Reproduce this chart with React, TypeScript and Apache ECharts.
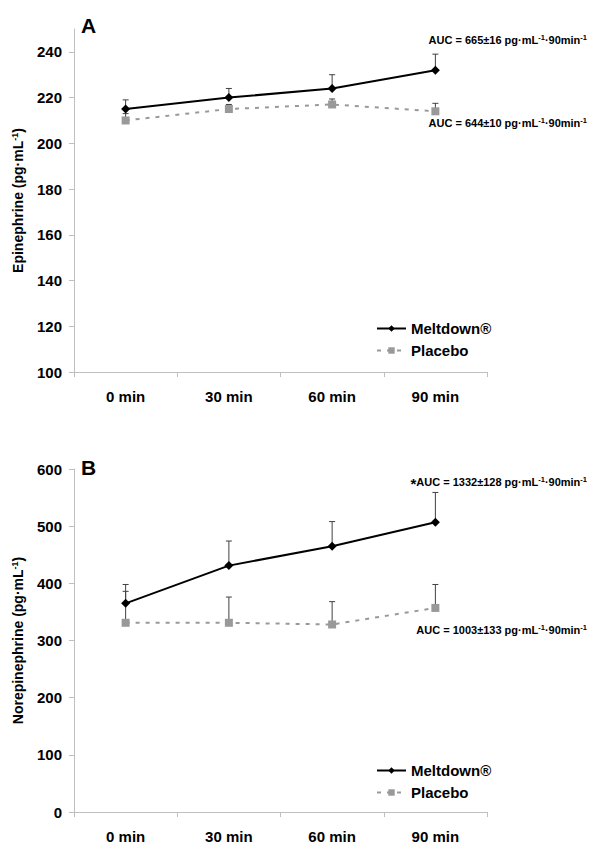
import React, { useEffect, useRef } from "react";
import * as echarts from "echarts";

const categories = ["0 min", "30 min", "60 min", "90 min"];
const seriesNames = ["Meltdown®", "Placebo"];

const epiMeltdown = [215, 220, 224, 232];
const epiMeltdownErr = [4, 4, 6, 7];
const epiPlacebo = [210, 215, 217, 214];
const epiPlaceboErr = [3, 2, 2.4, 3.5];

const norMeltdown = [365, 431, 465, 507];
const norMeltdownErr = [33, 43, 43, 52];
const norPlacebo = [331, 331, 328, 357];
const norPlaceboErr = [55, 45, 40, 41];

const epiTicks = [100, 120, 140, 160, 180, 200, 220, 240];
const norTicks = [0, 100, 200, 300, 400, 500, 600];

const epiAxisName = "Epinephrine (pg·mL";
const norAxisName = "Norepinephrine (pg·mL";

const aucTexts = [
  { pre: "", value: "AUC = 665±16 pg·mL" },
  { pre: "", value: "AUC = 644±10 pg·mL" },
  { pre: "*", value: "AUC = 1332±128 pg·mL" },
  { pre: "", value: "AUC = 1003±133 pg·mL" },
];

const FONT = "'Liberation Sans', Arial, Helvetica, sans-serif";
const GRAY = "#999999";
const AXIS = "#bfbfbf";

function errData(vals: number[], errs: number[]) {
  return vals.map((v, i) => [i, v, errs[i]]);
}

function errorSeries(xi: number, vals: number[], errs: number[]) {
  return {
    type: "custom",
    xAxisIndex: xi,
    yAxisIndex: xi,
    z: 1,
    silent: true,
    encode: { x: 0, y: 1 },
    data: errData(vals, errs),
    renderItem: (params: any, api: any) => {
      const x = api.value(0);
      const y = api.value(1);
      const e = api.value(2);
      const base = api.coord([x, y]);
      const top = api.coord([x, y + e]);
      const style = { stroke: "#404040", lineWidth: 1 };
      return {
        type: "group",
        children: [
          { type: "line", shape: { x1: base[0], y1: base[1], x2: top[0], y2: top[1] }, style },
          { type: "line", shape: { x1: top[0] - 3, y1: top[1], x2: top[0] + 3, y2: top[1] }, style },
        ],
      };
    },
  };
}

function lineSeries(name: string, xi: number, data: number[], meltdown: boolean) {
  return {
    type: "line",
    name,
    xAxisIndex: xi,
    yAxisIndex: xi,
    z: 3,
    data,
    symbol: meltdown ? "diamond" : "rect",
    symbolSize: meltdown ? 9 : 8,
    itemStyle: { color: meltdown ? "#000000" : GRAY },
    lineStyle: meltdown
      ? { color: "#000000", width: 2, type: "solid" }
      : { color: GRAY, width: 2, type: [4, 6] },
  };
}

function xAxis(gi: number) {
  return {
    type: "category",
    gridIndex: gi,
    data: categories,
    boundaryGap: true,
    axisLine: { lineStyle: { color: AXIS, width: 1 } },
    axisTick: { show: true, alignWithLabel: false, length: 5, lineStyle: { color: AXIS } },
    axisLabel: { margin: 17, color: "#000", fontFamily: FONT, fontWeight: "bold", fontSize: 15 },
    splitLine: { show: false },
  };
}

function yAxis(gi: number, min: number, max: number, interval: number, ticks: number[], name: string) {
  return {
    type: "value",
    gridIndex: gi,
    min,
    max,
    interval,
    name: `{a|${name}}{s|-1}{a|)}`,
    nameLocation: "middle",
    nameGap: 48,
    nameRotate: 90,
    nameTextStyle: {
      rich: {
        a: { fontFamily: FONT, fontWeight: "bold", fontSize: 14, color: "#000", lineHeight: 16 },
        s: { fontFamily: FONT, fontWeight: "bold", fontSize: 9, color: "#000", verticalAlign: "top", lineHeight: 16 },
      },
    },
    axisLine: { show: true, lineStyle: { color: AXIS, width: 1 } },
    axisTick: { show: true, length: 5, lineStyle: { color: AXIS }, customValues: ticks },
    axisLabel: {
      margin: 12,
      color: "#000",
      fontFamily: FONT,
      fontWeight: "bold",
      fontSize: 15,
      customValues: ticks,
      formatter: (v: number) => (ticks.indexOf(v) >= 0 ? String(v) : ""),
    },
    splitLine: { show: false },
  };
}

function aucText(x: number, y: number, t: { pre: string; value: string }) {
  const rich = {
    b: { fontFamily: FONT, fontWeight: "bold", fontSize: 11, fill: "#000", lineHeight: 13 },
    s: { fontFamily: FONT, fontWeight: "bold", fontSize: 7.5, fill: "#000", verticalAlign: "top", lineHeight: 13 },
    st: { fontFamily: FONT, fontWeight: "bold", fontSize: 15, fill: "#000", verticalAlign: "top", lineHeight: 13 },
  };
  const text = (t.pre ? `{st|${t.pre}}` : "") + `{b|${t.value}}{s|-1}{b|·90min}{s|-1}`;
  return {
    type: "text",
    x,
    y,
    style: { text, rich, align: "right", verticalAlign: "middle" },
  };
}

function legend(top: number, gap: number) {
  return {
    data: seriesNames,
    orient: "vertical",
    left: 371,
    top,
    itemWidth: 29,
    itemHeight: 8,
    itemGap: gap,
    textStyle: { fontFamily: FONT, fontWeight: "bold", fontSize: 15, color: "#000" },
  };
}

export default function App() {
  const ref = useRef<HTMLDivElement>(null);
  useEffect(() => {
    if (!ref.current) return;
    const chart = echarts.init(ref.current, null, { renderer: "svg" });
    const option: any = {
      animation: false,
      backgroundColor: "#ffffff",
      grid: [
        { left: 74, top: 29, width: 413, height: 343 },
        { left: 74, top: 469, width: 413, height: 343 },
      ],
      xAxis: [xAxis(0), xAxis(1)],
      yAxis: [
        yAxis(0, 100, 250, 10, epiTicks, epiAxisName),
        yAxis(1, 0, 600, 100, norTicks, norAxisName),
      ],
      legend: [legend(316, 7), legend(758, 7)],
      series: [
        errorSeries(0, epiPlacebo, epiPlaceboErr),
        errorSeries(0, epiMeltdown, epiMeltdownErr),
        lineSeries(seriesNames[1], 0, epiPlacebo, false),
        lineSeries(seriesNames[0], 0, epiMeltdown, true),
        errorSeries(1, norPlacebo, norPlaceboErr),
        errorSeries(1, norMeltdown, norMeltdownErr),
        lineSeries(seriesNames[1], 1, norPlacebo, false),
        lineSeries(seriesNames[0], 1, norMeltdown, true),
      ],
      graphic: [
        {
          type: "text",
          x: 81,
          y: 25,
          style: { text: "A", font: `bold 21px ${FONT}`, fill: "#000", verticalAlign: "middle" },
        },
        {
          type: "text",
          x: 81,
          y: 467,
          style: { text: "B", font: `bold 21px ${FONT}`, fill: "#000", verticalAlign: "middle" },
        },
        aucText(587, 40, aucTexts[0]),
        aucText(587, 123, aucTexts[1]),
        aucText(587, 482, aucTexts[2]),
        aucText(587, 630, aucTexts[3]),
      ],
    };
    chart.setOption(option);
    return () => chart.dispose();
  }, []);
  return (
    <div
      ref={ref}
      style={{ position: "fixed", left: 0, top: 0, width: 600, height: 861, background: "#fff" }}
    />
  );
}
